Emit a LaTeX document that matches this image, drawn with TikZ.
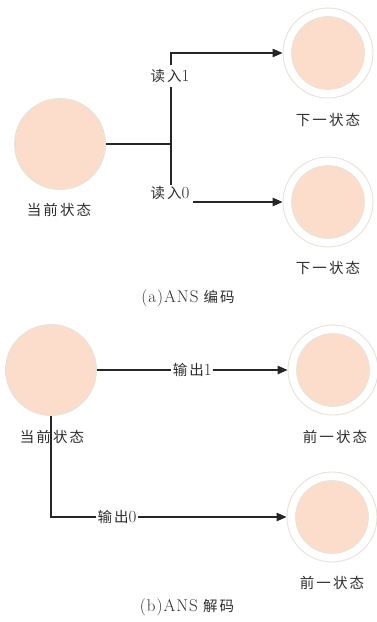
\documentclass[tikz,border=0pt]{standalone}
\usepackage{fontspec}
\setmainfont[LetterSpace=6]{Latin Modern Roman}
\newfontfamily\cjk[LetterSpace=14]{Noto Sans CJK SC}
\newcommand\latn[1]{{\fontsize{17}{18}\selectfont #1}}
\usetikzlibrary{arrows.meta}
\definecolor{peach}{RGB}{252,221,203}
\definecolor{rim}{RGB}{224,229,216}
\definecolor{ringc}{RGB}{228,225,214}
\definecolor{ink}{RGB}{45,45,45}
\begin{document}
\begin{tikzpicture}[x=1pt,y=-1pt,
  cur/.style={circle,fill=peach,draw=rim,line width=0.8pt,minimum size=91pt,inner sep=0pt},
  outring/.style={circle,draw=ringc,line width=0.9pt,minimum size=90pt,inner sep=0pt},
  inner/.style={circle,fill=peach,draw=rim,line width=0.6pt,minimum size=73pt,inner sep=0pt},
  lbl/.style={text=ink,font=\fontsize{14.5}{16}\selectfont,inner sep=1pt},
  elbl/.style={text=ink,font=\fontsize{14.5}{16}\selectfont,fill=white,inner sep=1.5pt},
  conn/.style={line width=1.1pt,draw=black!85},
  arr/.style={conn,-{Triangle[length=10pt,width=8.5pt]}}
]
\useasboundingbox (0,0) rectangle (376,622);
% ---------- (a) ----------
\node[cur] (ca) at (60,144) {};
\node[lbl] (cal) at (59,210) {\cjk 当前状态};
\node[outring] (na1) at (328,53) {};
\node[inner] at (na1) {};
\node[lbl] (na1l) at (328,120) {\cjk 下一状态};
\node[outring] (na2) at (328,202) {};
\node[inner] at (na2) {};
\node[lbl] (na2l) at (328,268) {\cjk 下一状态};
\node[lbl,inner sep=0pt,minimum height=21pt] (r1) at (170,76) {{\cjk 读入}\latn{1}};
\node[lbl,inner sep=0pt,minimum height=15pt] (r0) at (170,193) {{\cjk 读入}\latn{0}};
\coordinate (ja) at (171,144);
\coordinate (s0) at (193,202);
\draw[conn] (ca.east) -- (ja);
\draw[conn] (ja) -- (ja |- r1.south);
\draw[arr] (ja |- r1.north) |- (na1.west);
\draw[conn] (ja) -- (ja |- r0.north);
\draw[arr] (s0) -- (na2.west);
\node[lbl] (capa) at (188,298) {\latn{(a)ANS} {\cjk 编码}};
% ---------- (b) ----------
\node[cur] (cb) at (51,370) {};
\node[lbl] (cbl) at (52,437) {\cjk 当前状态};
\node[outring] (nb1) at (333,370) {};
\node[inner] at (nb1) {};
\node[lbl] (nb1l) at (335,437) {\cjk 前一状态};
\node[outring] (nb2) at (332,517) {};
\node[inner] at (nb2) {};
\node[lbl] (nb2l) at (332,583) {\cjk 前一状态};
\draw[arr] (cb.east) -- node[elbl,pos=0.5] {{\cjk 输出}\latn{1}} (nb1.west);
\coordinate (kb) at (cb.south |- nb2.west);
\draw[arr] (cb.south) -- (kb) -- node[elbl,pos=0.28] {{\cjk 输出}\latn{0}} (nb2.west);
\node[lbl] (capb) at (187,607) {\latn{(b)ANS} {\cjk 解码}};
\end{tikzpicture}
\end{document}
